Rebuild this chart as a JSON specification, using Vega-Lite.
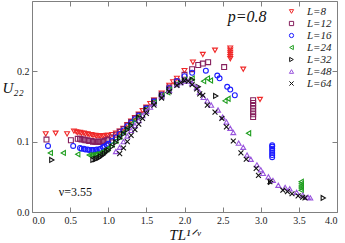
{
  "$schema": "https://vega.github.io/schema/vega-lite/v6.json",
  "width": 305,
  "height": 211,
  "autosize": "none",
  "padding": {"left": 32, "top": 1, "right": 8, "bottom": 31},
  "config": {
    "view": {"stroke": "#808080", "strokeWidth": 1},
    "axis": {"grid": false, "domain": false, "tickColor": "#808080", "tickSize": -5, "labelFont": "Liberation Serif", "labelFontSize": 10, "labelColor": "#222", "titleFont": "Liberation Serif", "titleFontStyle": "italic", "titleFontWeight": "normal", "titleFontSize": 15, "titleColor": "#111"}
  },
  "data": {"values": [
    {"L":"L=8","x":0.18,"y":0.111},{"L":"L=8","x":0.31,"y":0.112},{"L":"L=8","x":0.46,"y":0.111},
    {"L":"L=8","x":0.55,"y":0.115},{"L":"L=8","x":0.58,"y":0.114},{"L":"L=8","x":0.6,"y":0.113},{"L":"L=8","x":0.63,"y":0.113},{"L":"L=8","x":0.65,"y":0.112},{"L":"L=8","x":0.68,"y":0.112},{"L":"L=8","x":0.7,"y":0.111},{"L":"L=8","x":0.73,"y":0.111},{"L":"L=8","x":0.75,"y":0.110},{"L":"L=8","x":0.78,"y":0.110},{"L":"L=8","x":0.8,"y":0.109},{"L":"L=8","x":0.83,"y":0.109},{"L":"L=8","x":0.85,"y":0.108},{"L":"L=8","x":0.88,"y":0.108},{"L":"L=8","x":0.9,"y":0.108},{"L":"L=8","x":0.93,"y":0.108},{"L":"L=8","x":0.95,"y":0.108},{"L":"L=8","x":0.98,"y":0.109},{"L":"L=8","x":1.0,"y":0.109},{"L":"L=8","x":1.05,"y":0.110},{"L":"L=8","x":1.1,"y":0.112},{"L":"L=8","x":1.15,"y":0.115},{"L":"L=8","x":1.2,"y":0.119},{"L":"L=8","x":1.25,"y":0.124},{"L":"L=8","x":1.3,"y":0.129},{"L":"L=8","x":1.35,"y":0.134},{"L":"L=8","x":1.4,"y":0.139},{"L":"L=8","x":1.45,"y":0.144},{"L":"L=8","x":1.5,"y":0.149},{"L":"L=8","x":1.55,"y":0.154},{"L":"L=8","x":1.6,"y":0.159},{"L":"L=8","x":1.7,"y":0.169},{"L":"L=8","x":1.8,"y":0.180},{"L":"L=8","x":1.85,"y":0.185},{"L":"L=8","x":1.9,"y":0.190},{"L":"L=8","x":2.0,"y":0.201},{"L":"L=8","x":2.11,"y":0.213},{"L":"L=8","x":2.24,"y":0.224},{"L":"L=8","x":2.40,"y":0.230},{"L":"L=8","x":2.6,"y":0.218},{"L":"L=8","x":2.6,"y":0.221},{"L":"L=8","x":2.6,"y":0.224},{"L":"L=8","x":2.6,"y":0.227},{"L":"L=8","x":2.6,"y":0.230},{"L":"L=8","x":2.6,"y":0.233},{"L":"L=8","x":2.77,"y":0.203},{"L":"L=8","x":2.99,"y":0.160},
    {"L":"L=12","x":0.19,"y":0.103},{"L":"L=12","x":0.51,"y":0.102},
    {"L":"L=12","x":0.6,"y":0.104},{"L":"L=12","x":0.63,"y":0.104},{"L":"L=12","x":0.65,"y":0.103},{"L":"L=12","x":0.68,"y":0.103},{"L":"L=12","x":0.7,"y":0.102},{"L":"L=12","x":0.73,"y":0.102},{"L":"L=12","x":0.75,"y":0.101},{"L":"L=12","x":0.78,"y":0.101},{"L":"L=12","x":0.8,"y":0.100},{"L":"L=12","x":0.83,"y":0.100},{"L":"L=12","x":0.85,"y":0.100},{"L":"L=12","x":0.88,"y":0.100},{"L":"L=12","x":0.9,"y":0.100},{"L":"L=12","x":0.93,"y":0.100},{"L":"L=12","x":0.95,"y":0.101},{"L":"L=12","x":0.98,"y":0.102},{"L":"L=12","x":1.0,"y":0.103},{"L":"L=12","x":1.05,"y":0.106},{"L":"L=12","x":1.1,"y":0.110},{"L":"L=12","x":1.15,"y":0.114},{"L":"L=12","x":1.2,"y":0.118},{"L":"L=12","x":1.25,"y":0.123},{"L":"L=12","x":1.3,"y":0.128},{"L":"L=12","x":1.35,"y":0.133},{"L":"L=12","x":1.4,"y":0.138},{"L":"L=12","x":1.5,"y":0.148},{"L":"L=12","x":1.6,"y":0.158},{"L":"L=12","x":1.7,"y":0.167},{"L":"L=12","x":1.8,"y":0.177},{"L":"L=12","x":1.9,"y":0.186},{"L":"L=12","x":2.0,"y":0.195},{"L":"L=12","x":2.1,"y":0.203},{"L":"L=12","x":2.18,"y":0.209},{"L":"L=12","x":2.24,"y":0.211},{"L":"L=12","x":2.31,"y":0.213},{"L":"L=12","x":2.52,"y":0.206},{"L":"L=12","x":2.9,"y":0.135},{"L":"L=12","x":2.9,"y":0.139},{"L":"L=12","x":2.9,"y":0.143},{"L":"L=12","x":2.9,"y":0.147},{"L":"L=12","x":2.9,"y":0.151},{"L":"L=12","x":2.9,"y":0.155},{"L":"L=12","x":2.9,"y":0.159},
    {"L":"L=16","x":0.21,"y":0.094},{"L":"L=16","x":0.54,"y":0.094},
    {"L":"L=16","x":0.63,"y":0.091},{"L":"L=16","x":0.65,"y":0.090},{"L":"L=16","x":0.68,"y":0.090},{"L":"L=16","x":0.7,"y":0.089},{"L":"L=16","x":0.73,"y":0.089},{"L":"L=16","x":0.75,"y":0.088},{"L":"L=16","x":0.78,"y":0.088},{"L":"L=16","x":0.8,"y":0.088},{"L":"L=16","x":0.83,"y":0.088},{"L":"L=16","x":0.85,"y":0.089},{"L":"L=16","x":0.88,"y":0.089},{"L":"L=16","x":0.9,"y":0.090},{"L":"L=16","x":0.93,"y":0.092},{"L":"L=16","x":0.95,"y":0.093},{"L":"L=16","x":0.98,"y":0.095},{"L":"L=16","x":1.0,"y":0.097},{"L":"L=16","x":1.05,"y":0.101},{"L":"L=16","x":1.1,"y":0.106},{"L":"L=16","x":1.15,"y":0.111},{"L":"L=16","x":1.2,"y":0.116},{"L":"L=16","x":1.25,"y":0.122},{"L":"L=16","x":1.3,"y":0.127},{"L":"L=16","x":1.35,"y":0.132},{"L":"L=16","x":1.4,"y":0.137},{"L":"L=16","x":1.5,"y":0.147},{"L":"L=16","x":1.6,"y":0.157},{"L":"L=16","x":1.7,"y":0.166},{"L":"L=16","x":1.8,"y":0.176},{"L":"L=16","x":1.9,"y":0.186},{"L":"L=16","x":2.0,"y":0.193},{"L":"L=16","x":2.1,"y":0.198},{"L":"L=16","x":2.28,"y":0.201},{"L":"L=16","x":2.43,"y":0.194},{"L":"L=16","x":2.46,"y":0.190},{"L":"L=16","x":2.56,"y":0.178},{"L":"L=16","x":2.6,"y":0.174},{"L":"L=16","x":2.66,"y":0.166},{"L":"L=16","x":3.15,"y":0.078},{"L":"L=16","x":3.15,"y":0.081},{"L":"L=16","x":3.15,"y":0.084},{"L":"L=16","x":3.15,"y":0.087},{"L":"L=16","x":3.15,"y":0.090},{"L":"L=16","x":3.15,"y":0.093},{"L":"L=16","x":3.15,"y":0.095},
    {"L":"L=24","x":0.24,"y":0.084},{"L":"L=24","x":0.41,"y":0.084},{"L":"L=24","x":0.6,"y":0.082},
    {"L":"L=24","x":0.75,"y":0.081},{"L":"L=24","x":0.78,"y":0.081},{"L":"L=24","x":0.8,"y":0.081},{"L":"L=24","x":0.83,"y":0.082},{"L":"L=24","x":0.85,"y":0.082},{"L":"L=24","x":0.88,"y":0.083},{"L":"L=24","x":0.9,"y":0.084},{"L":"L=24","x":0.93,"y":0.086},{"L":"L=24","x":0.95,"y":0.087},{"L":"L=24","x":0.98,"y":0.089},{"L":"L=24","x":1.0,"y":0.091},{"L":"L=24","x":1.05,"y":0.096},{"L":"L=24","x":1.1,"y":0.101},{"L":"L=24","x":1.15,"y":0.107},{"L":"L=24","x":1.2,"y":0.113},{"L":"L=24","x":1.25,"y":0.119},{"L":"L=24","x":1.3,"y":0.125},{"L":"L=24","x":1.35,"y":0.131},{"L":"L=24","x":1.4,"y":0.136},{"L":"L=24","x":1.5,"y":0.146},{"L":"L=24","x":1.6,"y":0.156},{"L":"L=24","x":1.7,"y":0.165},{"L":"L=24","x":1.78,"y":0.170},{"L":"L=24","x":1.8,"y":0.174},{"L":"L=24","x":1.9,"y":0.182},{"L":"L=24","x":2.0,"y":0.188},{"L":"L=24","x":2.1,"y":0.190},{"L":"L=24","x":2.25,"y":0.186},{"L":"L=24","x":2.3,"y":0.190},{"L":"L=24","x":2.34,"y":0.187},{"L":"L=24","x":2.53,"y":0.158},{"L":"L=24","x":2.57,"y":0.161},{"L":"L=24","x":2.84,"y":0.112},{"L":"L=24","x":3.53,"y":0.031},{"L":"L=24","x":3.53,"y":0.034},{"L":"L=24","x":3.53,"y":0.037},{"L":"L=24","x":3.53,"y":0.040},{"L":"L=24","x":3.53,"y":0.043},
    {"L":"L=32","x":0.26,"y":0.074},
    {"L":"L=32","x":0.8,"y":0.074},{"L":"L=32","x":0.83,"y":0.075},{"L":"L=32","x":0.85,"y":0.076},{"L":"L=32","x":0.88,"y":0.077},{"L":"L=32","x":0.9,"y":0.079},{"L":"L=32","x":0.93,"y":0.081},{"L":"L=32","x":0.95,"y":0.083},{"L":"L=32","x":0.98,"y":0.086},{"L":"L=32","x":1.0,"y":0.088},{"L":"L=32","x":1.05,"y":0.093},{"L":"L=32","x":1.1,"y":0.099},{"L":"L=32","x":1.15,"y":0.105},{"L":"L=32","x":1.2,"y":0.111},{"L":"L=32","x":1.25,"y":0.117},{"L":"L=32","x":1.3,"y":0.123},{"L":"L=32","x":1.4,"y":0.134},{"L":"L=32","x":1.5,"y":0.145},{"L":"L=32","x":1.6,"y":0.155},{"L":"L=32","x":1.7,"y":0.165},{"L":"L=32","x":1.8,"y":0.174},{"L":"L=32","x":1.9,"y":0.182},{"L":"L=32","x":2.0,"y":0.187},{"L":"L=32","x":2.1,"y":0.188},{"L":"L=32","x":2.18,"y":0.178},{"L":"L=32","x":2.41,"y":0.165},{"L":"L=32","x":3.13,"y":0.043},{"L":"L=32","x":3.82,"y":0.020},
    {"L":"L=48","x":1.1,"y":0.086},{"L":"L=48","x":1.15,"y":0.092},{"L":"L=48","x":1.2,"y":0.100},{"L":"L=48","x":1.25,"y":0.108},{"L":"L=48","x":1.3,"y":0.116},{"L":"L=48","x":1.35,"y":0.123},{"L":"L=48","x":1.4,"y":0.130},{"L":"L=48","x":1.45,"y":0.137},{"L":"L=48","x":1.5,"y":0.143},{"L":"L=48","x":1.55,"y":0.149},{"L":"L=48","x":1.6,"y":0.154},{"L":"L=48","x":1.7,"y":0.164},{"L":"L=48","x":1.8,"y":0.173},{"L":"L=48","x":1.9,"y":0.181},{"L":"L=48","x":1.95,"y":0.184},{"L":"L=48","x":2.0,"y":0.186},{"L":"L=48","x":2.05,"y":0.186},{"L":"L=48","x":2.1,"y":0.183},{"L":"L=48","x":2.16,"y":0.177},{"L":"L=48","x":2.2,"y":0.170},{"L":"L=48","x":2.25,"y":0.163},{"L":"L=48","x":2.3,"y":0.158},{"L":"L=48","x":2.35,"y":0.152},{"L":"L=48","x":2.44,"y":0.145},{"L":"L=48","x":2.5,"y":0.135},{"L":"L=48","x":2.55,"y":0.128},{"L":"L=48","x":2.6,"y":0.119},{"L":"L=48","x":2.64,"y":0.113},{"L":"L=48","x":2.71,"y":0.098},{"L":"L=48","x":2.77,"y":0.092},{"L":"L=48","x":2.82,"y":0.081},{"L":"L=48","x":2.87,"y":0.075},{"L":"L=48","x":2.95,"y":0.067},{"L":"L=48","x":3.0,"y":0.060},{"L":"L=48","x":3.03,"y":0.055},{"L":"L=48","x":3.1,"y":0.050},{"L":"L=48","x":3.16,"y":0.045},{"L":"L=48","x":3.23,"y":0.038},{"L":"L=48","x":3.32,"y":0.035},{"L":"L=48","x":3.38,"y":0.033},{"L":"L=48","x":3.47,"y":0.028},{"L":"L=48","x":3.55,"y":0.024},{"L":"L=48","x":3.62,"y":0.021},{"L":"L=48","x":3.65,"y":0.020},
    {"L":"L=64","x":1.15,"y":0.083},{"L":"L=64","x":1.2,"y":0.091},{"L":"L=64","x":1.25,"y":0.100},{"L":"L=64","x":1.3,"y":0.109},{"L":"L=64","x":1.35,"y":0.117},{"L":"L=64","x":1.4,"y":0.125},{"L":"L=64","x":1.45,"y":0.133},{"L":"L=64","x":1.5,"y":0.140},{"L":"L=64","x":1.6,"y":0.152},{"L":"L=64","x":1.7,"y":0.162},{"L":"L=64","x":1.8,"y":0.171},{"L":"L=64","x":1.9,"y":0.180},{"L":"L=64","x":1.95,"y":0.184},{"L":"L=64","x":2.0,"y":0.187},{"L":"L=64","x":2.05,"y":0.186},{"L":"L=64","x":2.1,"y":0.181},{"L":"L=64","x":2.16,"y":0.175},{"L":"L=64","x":2.2,"y":0.168},{"L":"L=64","x":2.24,"y":0.166},{"L":"L=64","x":2.3,"y":0.152},{"L":"L=64","x":2.4,"y":0.142},{"L":"L=64","x":2.49,"y":0.133},{"L":"L=64","x":2.55,"y":0.121},{"L":"L=64","x":2.64,"y":0.101},{"L":"L=64","x":2.74,"y":0.084},{"L":"L=64","x":2.81,"y":0.075},{"L":"L=64","x":2.94,"y":0.062},{"L":"L=64","x":2.97,"y":0.052},{"L":"L=64","x":3.12,"y":0.043},{"L":"L=64","x":3.29,"y":0.031},{"L":"L=64","x":3.35,"y":0.029},{"L":"L=64","x":3.41,"y":0.026},{"L":"L=64","x":3.49,"y":0.023},{"L":"L=64","x":3.55,"y":0.021},{"L":"L=64","x":3.58,"y":0.020}
  ]},
  "layer": [
    {
      "mark": {"type": "point", "filled": false, "strokeWidth": 1.1, "size": 24, "opacity": 1},
      "encoding": {
        "x": {"field": "x", "type": "quantitative", "scale": {"domain": [0, 4], "nice": false, "zero": false},
              "axis": {"orient": "bottom", "values": [0, 0.5, 1, 1.5, 2, 2.5, 3, 3.5, 4], "format": ".1f", "labelPadding": 8, "title": "TL¹ᐟᵛ", "titlePadding": 2}},
        "y": {"field": "y", "type": "quantitative", "scale": {"domain": [0, 0.3], "nice": false},
              "axis": {"orient": "left", "values": [0, 0.1, 0.2], "format": ".1f", "labelPadding": 8, "title": "U₂₂", "titleAngle": 0, "titleAlign": "left", "titleBaseline": "middle", "titleX": -30, "titleY": 86}},
        "color": {"field": "L", "type": "nominal",
                  "scale": {"domain": ["L=8", "L=12", "L=16", "L=24", "L=32", "L=48", "L=64"], "range": ["#f02828", "#86205e", "#1a1aff", "#1f9e1f", "#111111", "#9955dd", "#111111"]},
                  "legend": {"orient": "top-right", "offset": 5, "title": null, "labelFont": "Liberation Serif", "labelFontStyle": "italic", "labelFontSize": 11, "labelColor": "#222", "symbolSize": 18, "symbolStrokeWidth": 1, "rowPadding": 0, "labelOffset": 10, "symbolType": "circle"}},
        "shape": {"field": "L", "type": "nominal",
                  "scale": {"domain": ["L=8", "L=12", "L=16", "L=24", "L=32", "L=48", "L=64"], "range": ["triangle-down", "square", "circle", "triangle-left", "triangle-right", "triangle-up", "M-1,-1L1,1M-1,1L1,-1"]}}
      }
    },
    {
      "data": {"values": [{"label": "p=0.8"}]},
      "mark": {"type": "text", "font": "Liberation Serif", "fontStyle": "italic", "fontSize": 16, "align": "center", "baseline": "middle", "color": "#111"},
      "encoding": {
        "x": {"datum": 2.82, "type": "quantitative", "axis": {"orient": "top", "values": [0, 0.5, 1, 1.5, 2, 2.5, 3, 3.5, 4], "labels": false, "title": null}},
        "y": {"datum": 0.277, "type": "quantitative", "axis": {"orient": "right", "values": [0, 0.1, 0.2], "labels": false, "title": null}},
        "text": {"field": "label"}
      }
    },
    {
      "data": {"values": [{"label": "ν=3.55"}]},
      "mark": {"type": "text", "font": "Liberation Serif", "fontSize": 12, "align": "center", "baseline": "middle", "color": "#111"},
      "encoding": {
        "x": {"datum": 0.57, "type": "quantitative", "axis": null},
        "y": {"datum": 0.028, "type": "quantitative", "axis": null},
        "text": {"field": "label"}
      }
    }
  ],
  "resolve": {"axis": {"x": "independent", "y": "independent"}}
}
